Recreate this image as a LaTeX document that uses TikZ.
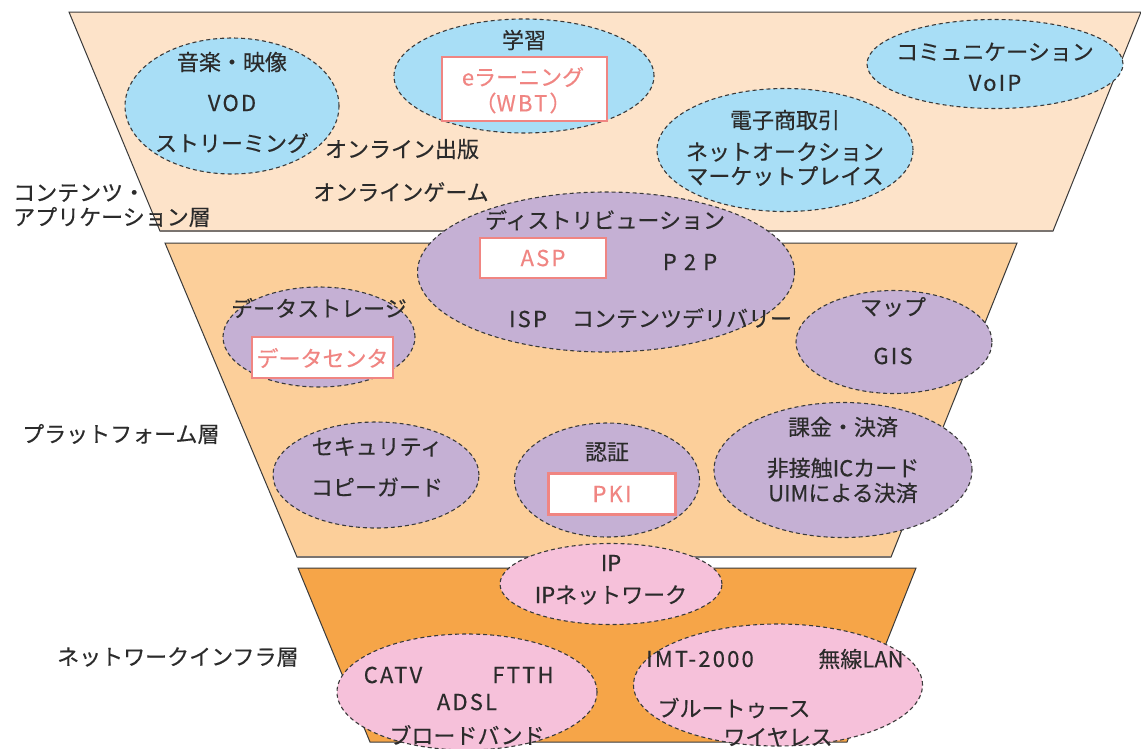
\documentclass[tikz,border=0pt]{standalone}
\usepackage{fontspec}
\setmainfont{Noto Sans CJK JP}[FakeBold=0.35]
\newfontfamily\ls{Noto Sans CJK JP}[LetterSpace=10,FakeBold=0.35]
\usetikzlibrary{shapes.geometric}
\definecolor{ink}{HTML}{2B2B2B}
\definecolor{edge}{HTML}{3A3A3A}
\definecolor{grayedge}{HTML}{7A7470}
\definecolor{toplayer}{HTML}{FDE3C9}
\definecolor{midlayer}{HTML}{FCCF9A}
\definecolor{botlayer}{HTML}{F6A548}
\definecolor{bluebub}{HTML}{A8DEF6}
\definecolor{purplebub}{HTML}{C5B0D4}
\definecolor{pinkbub}{HTML}{F6C1DA}
\definecolor{salmon}{HTML}{F08582}
\begin{document}
\begin{tikzpicture}[x=1pt,y=-1pt,
  font=\fontsize{22}{26}\selectfont,
  every node/.style={inner sep=0pt, text=ink},
  layer/.style={draw=edge, line width=1pt, line join=miter},
  bub/.style={ellipse, draw=edge, dash pattern=on 4pt off 3pt, line width=1.1pt, inner sep=0pt},
  tagbox/.style={rectangle, draw=salmon, line width=2.2pt, fill=white, inner sep=0pt},
  tagtext/.style={text=salmon},
  lbl/.style={text=ink}]
\useasboundingbox (0,0) rectangle (1141,748);
% layers
\fill[white] (0,0) rectangle (1141,748);
\draw[layer, fill=toplayer] (69,12) -- (1141,12) -- (1053,231) -- (160,231) -- cycle;
\draw[grayedge, line width=2pt] (160,231) -- (1053,231);
\draw[layer, fill=midlayer] (165,243) -- (1017,243) -- (891,557) -- (297,557) -- cycle;
\draw[grayedge, line width=2pt] (297,557) -- (891,557);
\draw[layer, fill=botlayer] (298,568) -- (916,568) -- (847,742) -- (370,742) -- cycle;

% layer labels
\node[lbl, anchor=west] (L1a) at (13,193) {コンテンツ・};
\node[lbl, anchor=west] (L1b) at (13,217) {アプリケーション層};
\node[lbl, anchor=west] (L2) at (22,434) {プラットフォーム層};
\node[lbl, anchor=west] (L3) at (57,657) {ネットワークインフラ層};

% top layer bubbles
\node[bub, fill=bluebub, minimum width=214pt, minimum height=136pt] (music) at (232,106) {};
\node[bub, fill=bluebub, minimum width=260pt, minimum height=114pt] (learn) at (524,76) {};
\node[bub, fill=bluebub, minimum width=256pt, minimum height=89pt] (comm) at (995,64) {};
\node[bub, fill=bluebub, minimum width=256pt, minimum height=123pt] (ec) at (785,150) {};

% middle layer bubbles
\node[bub, fill=purplebub, minimum width=377pt, minimum height=160pt] (dist) at (606,272) {};
\node[bub, fill=purplebub, minimum width=192pt, minimum height=100pt] (store) at (319,337) {};
\node[bub, fill=purplebub, minimum width=206pt, minimum height=106pt] (sec) at (376,475) {};
\node[bub, fill=purplebub, minimum width=185pt, minimum height=114pt] (auth) at (607,480) {};
\node[bub, fill=purplebub, minimum width=196pt, minimum height=103pt] (map) at (894,342) {};
\node[bub, fill=purplebub, minimum width=258pt, minimum height=135pt] (pay) at (843,470) {};

% bottom layer bubbles
\node[bub, fill=pinkbub, minimum width=222pt, minimum height=81pt] (ip) at (611,584) {};
\node[bub, fill=pinkbub, minimum width=260pt, minimum height=116pt] (bb) at (467,692) {};
\node[bub, fill=pinkbub, minimum width=289pt, minimum height=122pt] (wl) at (778,685) {};

% boxes
\node[tagbox, minimum width=165pt, minimum height=64pt] (bwbt) at (524.5,89) {};
\node[tagbox, minimum width=126pt, minimum height=40pt] (basp) at (543,258) {};
\node[tagbox, minimum width=141pt, minimum height=41pt] (bdc) at (322.5,357.5) {};
\node[tagbox, minimum width=127pt, minimum height=41pt] (bpki) at (612,494) {};

% texts: top layer
\node[lbl] (t1) at (232,62) {音楽・映像};
\node[lbl] (t2) at (232,103) {\ls VOD};
\node[lbl] (t3) at (232,143) {ストリーミング};
\node[lbl] (t4) at (524,40) {学習};
\node[tagtext] (t5) at (523,77) {eラーニング};
\node[tagtext] (t6) at (523,103) {（\ls WBT）};
\node[lbl] (t7) at (995,52) {コミュニケーション};
\node[lbl] (t8) at (995,83) {\ls VoIP};
\node[lbl] (t9) at (785,120) {電子商取引};
\node[lbl] (t10) at (785,152) {ネットオークション};
\node[lbl] (t11) at (785,176) {マーケットプレイス};
\node[lbl] (t12) at (402,149) {オンライン出版};
\node[lbl] (t13) at (401,192) {オンラインゲーム};

% texts: middle layer
\node[lbl] (t14) at (605,220) {ディストリビューション};
\node[tagtext] (t15) at (543,258) {\ls ASP};
\node[lbl] (t16) at (690,262) {\ls P 2 P};
\node[lbl] (t17) at (528,319) {\ls ISP};
\node[lbl] (t18) at (682,318) {コンテンツデリバリー};
\node[lbl] (t19) at (319,308) {データストレージ};
\node[tagtext] (t20) at (322.5,358) {データセンタ};
\node[lbl] (t21) at (377,447) {セキュリティ};
\node[lbl] (t22) at (377,487) {コピーガード};
\node[lbl] (t23) at (607,452) {認証};
\node[tagtext] (t24) at (612,494) {\ls PKI};
\node[lbl] (t25) at (893,307) {マップ};
\node[lbl] (t26) at (893,356) {\ls GIS};
\node[lbl] (t27) at (843,427) {課金・決済};
\node[lbl] (t28) at (843,468) {非接触ICカード};
\node[lbl] (t29) at (843,493) {UIMによる決済};

% texts: bottom layer
\node[lbl] (t30) at (611,563) {IP};
\node[lbl] (t31) at (611,595) {IPネットワーク};
\node[lbl] (t32) at (393,675) {\ls CATV};
\node[lbl] (t33) at (523,675) {\ls FTTH};
\node[lbl] (t34) at (467,702) {\ls ADSL};
\node[lbl] (t35) at (467,735) {ブロードバンド};
\node[lbl] (t36) at (700,659) {\ls IMT-2000};
\node[lbl] (t37) at (861,659) {無線LAN};
\node[lbl] (t38) at (734,708) {ブルートゥース};
\node[lbl] (t39) at (778,737) {ワイヤレス};
\end{tikzpicture}
\end{document}
